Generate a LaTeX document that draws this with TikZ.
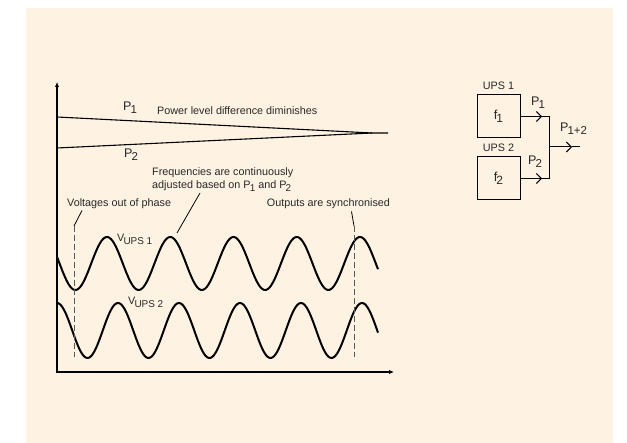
\documentclass[tikz,border=0pt]{standalone}
\usepackage{graphicx}
\usepackage{fontspec}
\setmainfont{Liberation Sans}
\usetikzlibrary{arrows.meta,positioning}
\definecolor{cream}{RGB}{254,243,226}
\definecolor{ink}{RGB}{40,40,40}
\newcommand{\lo}[1]{\kern-0.08em\raisebox{-0.45ex}{\scalebox{0.92}{#1}}}

\begin{document}
\begin{tikzpicture}[x=1pt,y=-1pt,font=\fontsize{10.8}{13}\selectfont,text=ink,
  axis/.style={line width=1.1pt,{Latex[length=5pt,width=4.5pt]}-{Latex[length=5pt,width=4.5pt]}},
  level/.style={line width=1.1pt},
  wave/.style={line width=2pt,line join=round},
  guide/.style={line width=0.9pt,dash pattern=on 6pt off 3pt,black!65},
  lead/.style={line width=0.8pt},
  lab/.style={inner sep=0pt,anchor=base west},
  big/.style={inner sep=0pt,anchor=base west,font=\fontsize{12.5}{14}\selectfont},
  box/.style={draw,line width=1pt,minimum size=43pt,inner sep=0pt,font=\fontsize{13}{14}\selectfont},
  flow/.style={line width=1pt,-{Straight Barb[length=5pt,width=10pt]}}]
\useasboundingbox (0,0) rectangle (627,443);
\fill[cream] (26,8) rectangle (613,443);

% axes
\coordinate (ytop) at (57,82);
\coordinate (origin) at (57,372);
\coordinate (xend) at (394,372);
\draw[axis] (ytop) -- (origin) -- (xend);

% power levels
\coordinate (p1s) at (57,117);
\coordinate (p2s) at (57,148);
\coordinate (meet) at (372,133);
\coordinate (pend) at (388,133);
\draw[level] (p1s) -- (meet) -- (pend);
\draw[level] (p2s) -- (meet);
\node[big] (p1) at (123,111) {P\lo{1}};
\node[big] (p2) at (124,158) {P\lo{2}};
\node[lab] (diminish) at (157,114.3) {Power level difference diminishes};
\node[lab] (freqa) at (152,175.7) {Frequencies are continuously};
\node[lab] (freqb) at (152,188.5) {adjusted based on P\lo{1} and P\lo{2}};

% voltages
\draw[wave] plot[domain=57:378,samples=220,smooth] (\x,{263.5-26.5*cos(5.6917*(\x-107))});
\draw[wave] plot[domain=57:378,samples=220,smooth] (\x,{330.5-27.5*cos(5.9016*(\x-118))});
\node[lab] (vups1) at (117,241.7) {V\lo{UPS 1}};
\node[lab] (vups2) at (128,305) {V\lo{UPS 2}};

% annotations
\node[lab] (phase) at (67,206.7) {Voltages out of phase};
\node[lab] (sync) at (266.7,206.7) {Outputs are synchronised};
\coordinate (peak) at (177,233);
\coordinate (fq) at (200,193);
\draw[lead] (fq) -- (peak);
\coordinate (ph) at (82,210.5);
\coordinate (pht) at (74,226);
\coordinate (phb) at (74,357);
\draw[lead] (ph) -- (pht);
\draw[guide] (pht) -- (phb);
\coordinate (sy) at (351.5,211.5);
\coordinate (syt) at (354,226);
\coordinate (syb) at (354,357);
\draw[lead] (sy) -- (syt);
\draw[guide] (syt) -- (syb);

% block diagram
\node[box] (ups1) at (498.5,116.5) {f\lo{1}};
\node[box] (ups2) at (498.5,178.5) {f\lo{2}};
\node[inner sep=0pt,above=4.5pt of ups1] (name1) {UPS 1};
\node[inner sep=0pt,above=4.5pt of ups2] (name2) {UPS 2};
\coordinate (t1) at (542,116.5);
\coordinate (t2) at (542,178.5);
\coordinate (j1) at (549,116.5);
\coordinate (j2) at (549,178.5);
\coordinate (jm) at (549,147);
\coordinate (t3) at (572,147);
\coordinate (out) at (580,147);
\draw[flow] (ups1.east) -- (t1);
\draw[flow] (ups2.east) -- (t2);
\draw[line width=1pt] (t1) -- (j1) -- (j2) -- (t2);
\draw[flow] (jm) -- (t3);
\draw[line width=1pt] (t3) -- (out);
\node[big] (q1) at (531,106) {P\lo{1}};
\node[big] (q2) at (528,165) {P\lo{2}};
\node[big] (q12) at (560,132) {P\lo{1+2}};
\end{tikzpicture}
\end{document}
